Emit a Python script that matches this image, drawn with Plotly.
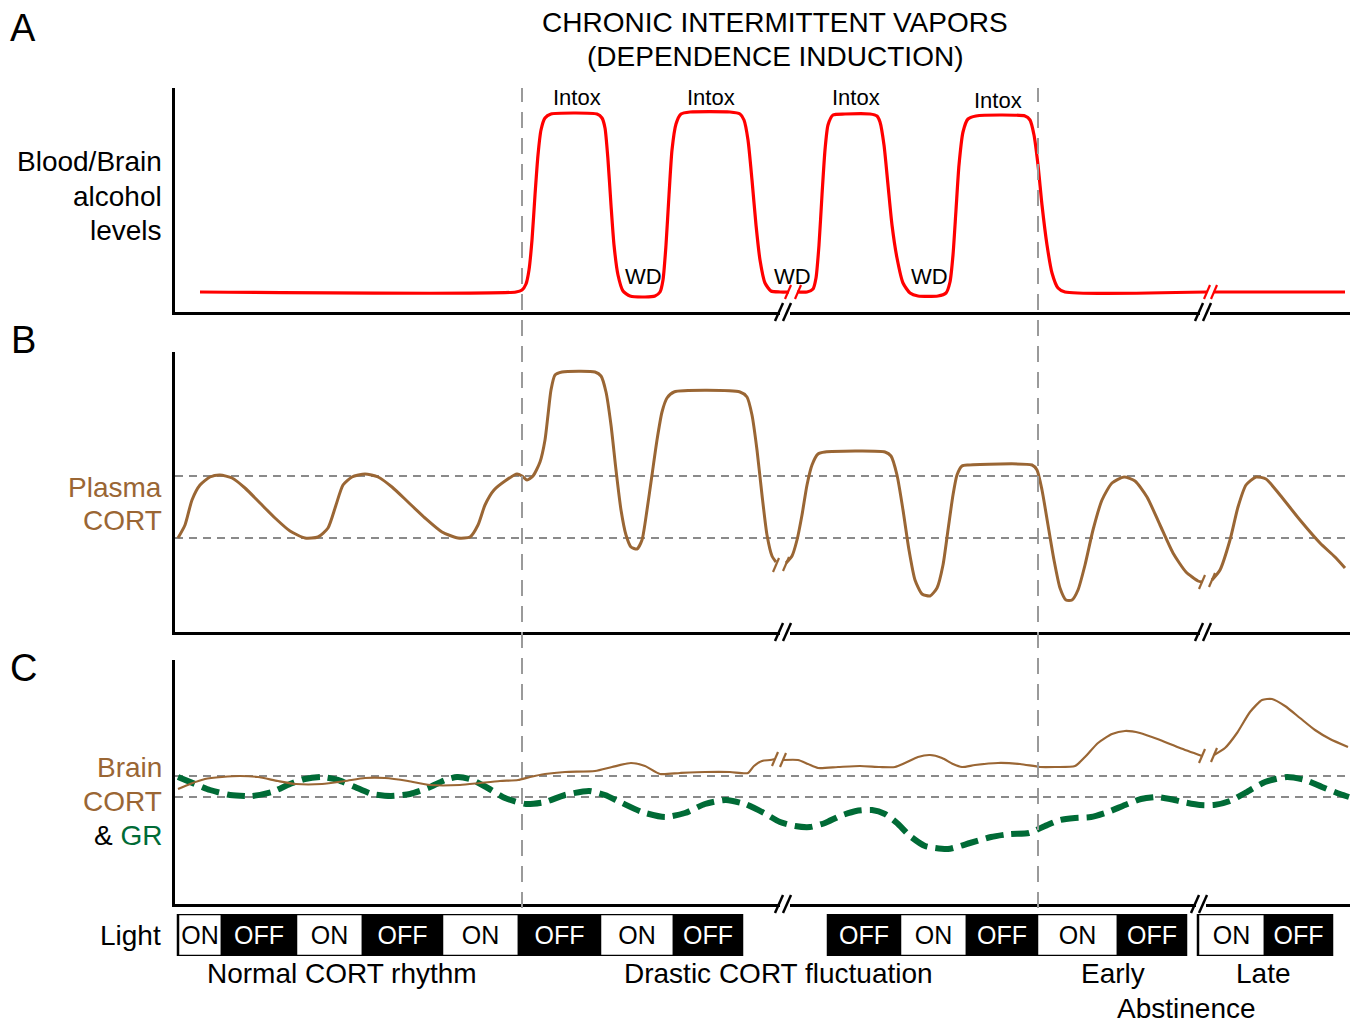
import plotly.graph_objects as go

W, H = 1363, 1023
FONT = "Liberation Sans, Arial, sans-serif"
BROWN = "#9A6634"
GREEN = "#006B36"
RED = "#FF0000"
GREY = "#8A8A8A"

# ---------------- data (time units along x, level above baseline along y) ----------------
# Panel A: blood/brain alcohol levels (3 segments separated by axis breaks)
alc_t1 = [200, 516, 522, 526, 529, 532, 535, 538, 541, 545, 551, 575, 597, 602, 605, 608, 611, 614, 618, 623,
          630, 645, 655, 660, 663, 666, 669, 672, 676, 681, 690, 730, 740, 744, 748, 752, 756, 760, 765, 771, 780, 789]
alc_v1 = [20, 20, 22, 28, 42, 72, 117, 157, 182, 194, 198, 199, 198, 194, 184, 152, 107, 67, 37, 21,
          16, 15, 16, 20, 32, 67, 117, 162, 188, 198, 200, 200, 198, 192, 172, 132, 87, 52, 29, 21, 20, 20]
alc_t2 = [797, 807, 813, 816, 819, 822, 825, 828, 833, 845, 870, 877, 880, 884, 888, 892, 897, 903, 910, 918,
          938, 946, 950, 953, 956, 959, 963, 968, 976, 1000, 1025, 1030, 1034, 1038, 1042, 1047, 1052, 1058, 1065, 1207]
alc_v2 = [20, 20, 23, 34, 67, 117, 162, 187, 197, 198, 198, 196, 190, 167, 127, 87, 54, 29, 19, 16,
          16, 19, 30, 57, 102, 147, 180, 193, 196, 197, 196, 192, 177, 147, 107, 67, 39, 24, 20, 20]
alc_t3 = [1214, 1345]
alc_v3 = [20, 20]

# Panel B: plasma CORT
pc_t1 = [178, 185, 192, 200, 210, 220, 232, 245, 260, 275, 290, 305, 318, 328, 336, 343, 352, 365, 378, 392,
         408, 425, 442, 458, 470, 478, 485, 494, 505, 517, 522, 527, 533, 540, 545, 548, 551, 555, 562, 595,
         601, 606, 611, 616, 621, 626, 631, 637, 642, 647, 652, 657, 662, 667, 674, 740, 747, 752, 757, 762,
         767, 772, 776]
pc_v1 = [94, 107, 132, 147, 155, 157, 154, 144, 129, 114, 101, 94, 95, 104, 127, 147, 155, 158, 155, 145,
         130, 114, 100, 94, 95, 107, 127, 142, 151, 158, 156, 152, 156, 170, 192, 217, 242, 257, 260, 260,
         256, 240, 207, 162, 122, 97, 85, 83, 92, 122, 157, 192, 220, 234, 240, 240, 235, 217, 182, 137,
         97, 76, 70]
pc_t2 = [786, 792, 797, 802, 807, 812, 818, 825, 885, 891, 897, 903, 909, 915, 922, 930, 937, 943, 948, 953,
         957, 962, 968, 1032, 1037, 1042, 1048, 1054, 1060, 1066, 1072, 1078, 1085, 1093, 1102, 1112, 1124, 1135,
         1147, 1160, 1173, 1186, 1198, 1202]
pc_v2 = [69, 76, 92, 117, 147, 167, 178, 180, 180, 176, 157, 122, 82, 52, 38, 36, 44, 67, 102, 137,
         157, 166, 167, 167, 162, 142, 107, 72, 44, 32, 32, 42, 67, 102, 132, 149, 155, 151,
         135, 107, 79, 60, 51, 50]
pc_t3 = [1212, 1220, 1230, 1238, 1246, 1256, 1266, 1280, 1300, 1320, 1335, 1345]
pc_v3 = [52, 62, 92, 125, 147, 155, 153, 137, 112, 89, 75, 64]

# Panel C: brain CORT (solid) and GR (dashed)
bc_t1 = [178, 190, 205, 222, 240, 258, 278, 296, 322, 345, 365, 385, 408, 430, 460, 480, 500, 518, 530, 545,
         565, 595, 612, 631, 645, 660, 680, 705, 730, 748, 754, 762, 770, 775]
bc_v1 = [115, 120, 125, 127, 128, 127, 123, 120, 120, 123, 126, 126, 123, 119, 119, 121, 123, 124, 127, 130,
         132, 133, 137, 141, 138, 130, 131, 132, 132, 131, 138, 143, 144, 145]
bc_t2 = [783, 798, 808, 818, 838, 860, 880, 895, 905, 918, 930, 942, 953, 962, 975, 998, 1020, 1040, 1055,
         1075, 1085, 1098, 1112, 1125, 1140, 1160, 1180, 1202]
bc_v2 = [144, 144, 140, 136, 137, 138, 137, 137, 141, 147, 149, 146, 140, 137, 139, 141, 140, 137, 137,
         138, 147, 161, 170, 173, 171, 164, 156, 148]
bc_t3 = [1214, 1225, 1237, 1250, 1262, 1272, 1285, 1300, 1315, 1330, 1348]
bc_v3 = [149, 156, 171, 192, 204, 205, 198, 186, 174, 165, 157]

gr_t = [178, 195, 210, 230, 252, 272, 290, 305, 322, 338, 355, 372, 391, 410, 428, 445, 457, 470, 486, 505,
        526, 545, 565, 589, 605, 620, 642, 665, 685, 705, 726, 745, 764, 780, 795, 810, 825, 840, 856, 872,
        885, 897, 910, 925, 948, 970, 991, 1010, 1029, 1045, 1060, 1075, 1091, 1108, 1125, 1141, 1156, 1170,
        1183, 1200, 1214, 1230, 1245, 1265, 1287, 1305, 1322, 1340, 1349]
gr_v = [127, 120, 114, 109, 108, 112, 120, 125, 127, 124, 117, 110, 108, 110, 116, 124, 127, 125, 117, 106,
        100, 102, 109, 113, 109, 102, 92, 87, 91, 100, 104, 100, 91, 82, 78, 77, 81, 88, 93, 94,
        90, 81, 68, 58, 55, 61, 67, 70, 71, 78, 84, 86, 87, 92, 99, 105, 107, 105,
        102, 99, 99, 103, 111, 122, 127, 124, 117, 110, 107]

# reference (normal range) levels
plasma_ref = [156, 94]
brain_ref = [128, 107]

# Light cycle
light_start = [178, 222, 296, 363, 442, 519, 600, 674, 828, 900, 967, 1037, 1118, 1198, 1265]
light_end = [222, 296, 363, 442, 519, 600, 674, 742, 900, 967, 1037, 1118, 1186, 1265, 1332]
light_lab = ["ON", "OFF", "ON", "OFF", "ON", "OFF", "ON", "OFF",
             "OFF", "ON", "OFF", "ON", "OFF", "ON", "OFF"]

# Event labels
intox_t = [577, 711, 856, 998]
intox_v = [215, 215, 215, 212]
wd_t = [643, 792, 929]
wd_v = [36, 36, 36]

phase_onset = [522, 1038]
axis_breaks = [783, 1203]

# ---------------- figure ----------------
def px(x):
    return x / W


def py(y):
    return 1 - y / H


XR = [175, 1350]
fig = go.Figure()


def seg(t, v, ax, color, width, dash=None):
    fig.add_trace(go.Scatter(x=t, y=v, mode="lines", xaxis=ax[0], yaxis=ax[1],
                             line=dict(color=color, width=width, shape="spline", smoothing=0.6,
                                       dash=dash), hoverinfo="skip", showlegend=False))


A = ("x", "y")
B = ("x2", "y2")
C = ("x3", "y3")
seg(alc_t1, alc_v1, A, RED, 3.2)
seg(alc_t2, alc_v2, A, RED, 3.2)
seg(alc_t3, alc_v3, A, RED, 3.2)
seg(pc_t1, pc_v1, B, BROWN, 3)
seg(pc_t2, pc_v2, B, BROWN, 3)
seg(pc_t3, pc_v3, B, BROWN, 3)
seg(gr_t, gr_v, C, GREEN, 6, dash="18px,8px")
seg(bc_t1, bc_v1, C, BROWN, 2.2)
seg(bc_t2, bc_v2, C, BROWN, 2.2)
seg(bc_t3, bc_v3, C, BROWN, 2.2)

# light bar
fig.add_trace(go.Bar(
    x=[e - s for s, e in zip(light_start, light_end)], base=light_start, y=[0] * len(light_start),
    orientation="h", width=1, xaxis="x4", yaxis="y4",
    marker=dict(color=["white" if l == "ON" else "black" for l in light_lab],
                line=dict(color="black", width=2.5)),
    text=light_lab, textposition="inside", insidetextanchor="middle", textangle=0,
    constraintext="none",
    textfont=dict(family=FONT, size=25, color=["black" if l == "ON" else "white" for l in light_lab]),
    hoverinfo="skip", showlegend=False))

axcommon = dict(showgrid=False, zeroline=False, showticklabels=False, ticks="", fixedrange=True)
layout = dict(
    width=W, height=H, margin=dict(l=0, r=0, t=0, b=0),
    paper_bgcolor="white", plot_bgcolor="rgba(0,0,0,0)",
    font=dict(family=FONT, color="black"),
    showlegend=False, barmode="overlay",
)
panel_px = [(312, 88, 224), (632, 352, 280), (904, 660, 244)]
for i, (b, t, r) in enumerate(panel_px):
    sfx = "" if i == 0 else str(i + 1)
    layout["xaxis" + sfx] = dict(domain=[px(XR[0]), px(XR[1])], range=XR, anchor="y" + sfx, showline=True,
                                 linewidth=3, linecolor="black", **axcommon)
    layout["yaxis" + sfx] = dict(domain=[py(b), py(t)], range=[0, r], anchor="x" + sfx,
                                 showline=True, linewidth=3, linecolor="black", **axcommon)
layout["xaxis4"] = dict(domain=[px(XR[0]), px(XR[1])], range=XR, anchor="y4", visible=False)
layout["yaxis4"] = dict(domain=[py(956), py(914)], range=[-0.5, 0.5], anchor="x4", visible=False)
fig.update_layout(**layout)

shapes = []
# reference range dashed lines
for v in plasma_ref:
    shapes.append(dict(type="line", xref="x2", yref="y2", x0=XR[0], x1=XR[1], y0=v, y1=v,
                       line=dict(color=GREY, width=2, dash="8px,6px"), layer="below"))
for v in brain_ref:
    shapes.append(dict(type="line", xref="x3", yref="y3", x0=XR[0], x1=XR[1], y0=v, y1=v,
                       line=dict(color=GREY, width=2, dash="8px,6px"), layer="below"))
# phase onsets
for xv in phase_onset:
    shapes.append(dict(type="line", xref="x", yref="paper", x0=xv, x1=xv, y0=py(908), y1=py(88),
                       line=dict(color="#9A9A9A", width=2, dash="16px,10px"), layer="above"))
# axis breaks
for b, _t, _r in panel_px:
    for bx in axis_breaks:
        if b == 904 and bx == axis_breaks[1]:
            bx = 1199
        shapes.append(dict(type="line", xref="x", yref="paper", x0=bx - 3, x1=bx + 7, y0=py(b), y1=py(b),
                           line=dict(color="white", width=7)))
        for o in (-4, 4):
            shapes.append(dict(type="line", xref="x", yref="paper", x0=bx + o - 4, x1=bx + o + 4,
                               y0=py(b + 9), y1=py(b - 9), line=dict(color="black", width=2.5)))


# curve break ticks
def tick(x, v, xr, yr, color, w=2.2):
    shapes.append(dict(type="line", xref=xr, yref=yr, x0=x - 3, x1=x + 3, y0=v - 7, y1=v + 7,
                       line=dict(color=color, width=w)))


tick(alc_t1[-1] - 1, alc_v1[-1], "x", "y", RED)
tick(alc_t2[0] + 1, alc_v2[0], "x", "y", RED)
tick(alc_t2[-1], alc_v2[-1], "x", "y", RED)
tick(alc_t3[0], alc_v3[0], "x", "y", RED)
tick(pc_t1[-1], pc_v1[-1] - 3, "x2", "y2", BROWN)
tick(pc_t2[0], pc_v2[0] - 1, "x2", "y2", BROWN)
tick(pc_t2[-1], pc_v2[-1], "x2", "y2", BROWN)
tick(pc_t3[0], pc_v3[0], "x2", "y2", BROWN)
tick(bc_t1[-1], bc_v1[-1], "x3", "y3", BROWN)
tick(bc_t2[0], bc_v2[0], "x3", "y3", BROWN)
tick(bc_t2[-1], bc_v2[-1], "x3", "y3", BROWN)
tick(bc_t3[0], bc_v3[0], "x3", "y3", BROWN)
fig.update_layout(shapes=shapes)

ann = []


def txt(x, y, s, size, color="black", xanchor="center"):
    ann.append(dict(x=px(x), y=py(y), xref="paper", yref="paper", text=s, showarrow=False,
                    xanchor=xanchor, yanchor="middle", font=dict(size=size, color=color, family=FONT)))


txt(23, 28, "A", 38)
txt(23, 340, "B", 38)
txt(23, 668, "C", 38)
txt(775, 23, "CHRONIC INTERMITTENT VAPORS", 28)
txt(775, 57, "(DEPENDENCE INDUCTION)", 28)
txt(164, 162, "Blood/Brain", 28, xanchor="right")
txt(164, 196, "alcohol", 28, xanchor="right")
txt(164, 230, "levels", 28, xanchor="right")
txt(164, 487, "Plasma", 28, BROWN, xanchor="right")
txt(164, 520, "CORT", 28, BROWN, xanchor="right")
txt(164, 767, "Brain", 28, BROWN, xanchor="right")
txt(164, 801, "CORT", 28, BROWN, xanchor="right")
txt(164, 835, f"& <span style='color:{GREEN}'>GR</span>", 28, xanchor="right")
txt(163, 935, "Light", 28, xanchor="right")
txt(342, 973, "Normal CORT rhythm", 28)
txt(778, 973, "Drastic CORT fluctuation", 28)
txt(1113, 973, "Early", 28)
txt(1263, 973, "Late", 28)
txt(1186, 1008, "Abstinence", 28)

for t, v in zip(intox_t, intox_v):
    ann.append(dict(x=t, y=v, xref="x", yref="y", text="Intox", showarrow=False,
                    font=dict(size=22, family=FONT, color="black")))
for t, v in zip(wd_t, wd_v):
    ann.append(dict(x=t, y=v, xref="x", yref="y", text="WD", showarrow=False,
                    font=dict(size=22, family=FONT, color="black")))
fig.update_layout(annotations=ann)

fig.write_html("out.html", config={"displayModeBar": False},
               post_script="document.body.style.margin='0px';")
